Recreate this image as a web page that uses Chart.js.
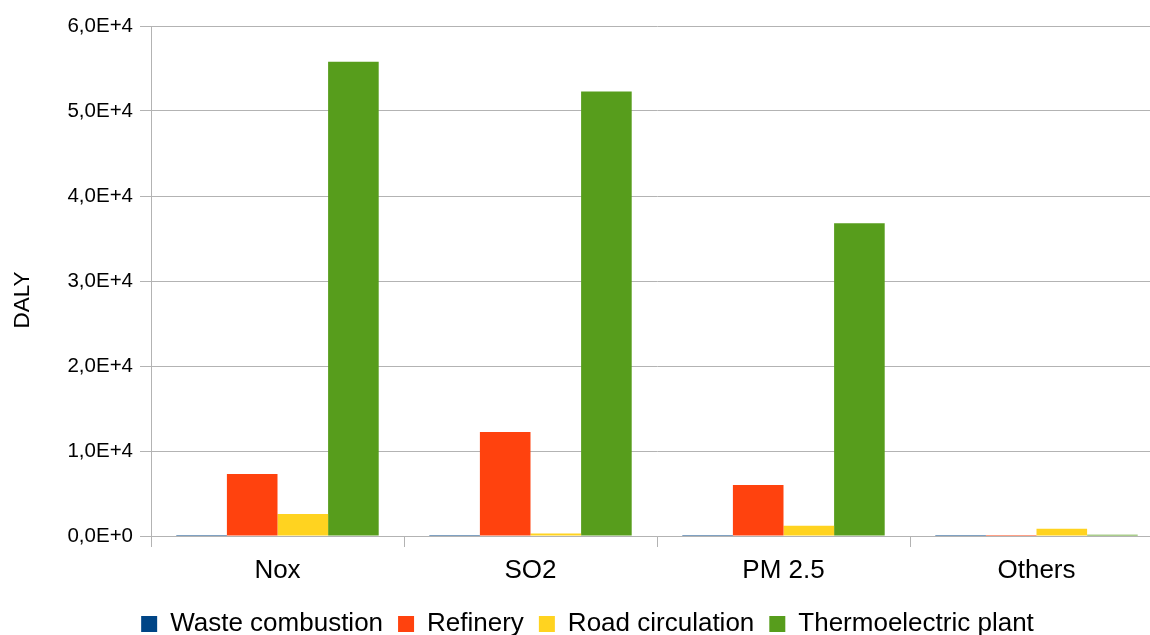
<!DOCTYPE html>
<html>
<head>
<meta charset="utf-8">
<script src="https://cdn.jsdelivr.net/npm/chart.js@4/dist/chart.umd.min.js"></script>
<style>
html,body{margin:0;padding:0;overflow:hidden;background:#ffffff;}
#wrap{width:1164px;height:635px;position:relative;}
canvas{display:block;}
</style>
</head>
<body>
<div id="wrap"><canvas id="c" width="1164" height="635"></canvas></div>
<script>
const categories = ["Nox", "SO2", "PM 2.5", "Others"];
const seriesNames = ["Waste combustion", "Refinery", "Road circulation", "Thermoelectric plant"];
const wasteCombustion = [110, 110, 110, 110];
const refinery = [7300, 12250, 6000, 120];
const roadCirculation = [2600, 300, 1200, 850];
const thermoelectricPlant = [55800, 52300, 36800, 150];
const yTickValues = [0, 10000, 20000, 30000, 40000, 50000, 60000];
const yTickLabels = ["0,0E+0", "1,0E+4", "2,0E+4", "3,0E+4", "4,0E+4", "5,0E+4", "6,0E+4"];
const yAxisTitle = "DALY";
const seriesColors = ["#004586", "#ff420e", "#ffd320", "#579d1c"];

const FONT = "'Liberation Sans', Arial, sans-serif";
const GRID = "#b3b3b3";
const seriesData = [wasteCombustion, refinery, roadCirculation, thermoelectricPlant];

const legendHeightPlugin = {
  id: 'legendHeight',
  afterInit(chart) {
    const lg = chart.legend;
    if (!lg) return;
    const orig = lg.fit.bind(lg);
    lg.fit = function () { orig(); this.height = 39; };
  },
  afterLayout(chart) {
    const lg = chart.legend;
    if (!lg) return;
    lg.left += 6;
    lg.right += 6;
  }
};

const yTitlePlugin = {
  id: 'yTitle',
  afterDraw(chart) {
    const ctx = chart.ctx;
    ctx.save();
    ctx.translate(23, 300);
    ctx.rotate(-Math.PI / 2);
    ctx.font = "22.5px " + FONT;
    ctx.fillStyle = '#000000';
    ctx.textAlign = 'center';
    ctx.textBaseline = 'middle';
    ctx.fillText(yAxisTitle, 0, 0);
    ctx.restore();
  }
};

new Chart(document.getElementById('c'), {
  type: 'bar',
  data: {
    labels: categories,
    datasets: seriesNames.map((name, i) => ({
      label: name,
      data: seriesData[i],
      backgroundColor: seriesColors[i],
      borderWidth: 0,
      barPercentage: 1.0,
      categoryPercentage: 0.8
    }))
  },
  plugins: [legendHeightPlugin, yTitlePlugin],
  options: {
    responsive: false,
    animation: false,
    devicePixelRatio: 1,
    layout: { padding: { top: 26, left: 0, right: 1, bottom: 0 } },
    plugins: {
      tooltip: { enabled: false },
      legend: {
        position: 'bottom',
        labels: {
          font: { family: FONT, size: 26 },
          color: '#000000',
          boxWidth: 16,
          boxHeight: 16,
          padding: 15
        }
      }
    },
    scales: {
      x: {
        afterFit: (s) => { s.height = 60; },
        grid: {
          drawOnChartArea: false,
          drawTicks: true,
          tickLength: 11,
          color: GRID,
          offset: true
        },
        border: { display: true, color: GRID, width: 1 },
        ticks: {
          font: { family: FONT, size: 26 },
          color: '#000000',
          padding: 8
        }
      },
      y: {
        min: 0,
        max: 60000,
        afterFit: (s) => { s.width = 151; },
        afterBuildTicks: (s) => { s.ticks = yTickValues.map(v => ({ value: v })); },
        grid: {
          color: GRID,
          tickLength: 11,
          drawTicks: true
        },
        border: { display: true, color: GRID, width: 1 },
        ticks: {
          font: { family: FONT, size: 20.5 },
          color: '#000000',
          padding: 7,
          callback: (v) => yTickLabels[yTickValues.indexOf(v)]
        },
        title: { display: false }
      }
    }
  }
});
</script>
</body>
</html>
